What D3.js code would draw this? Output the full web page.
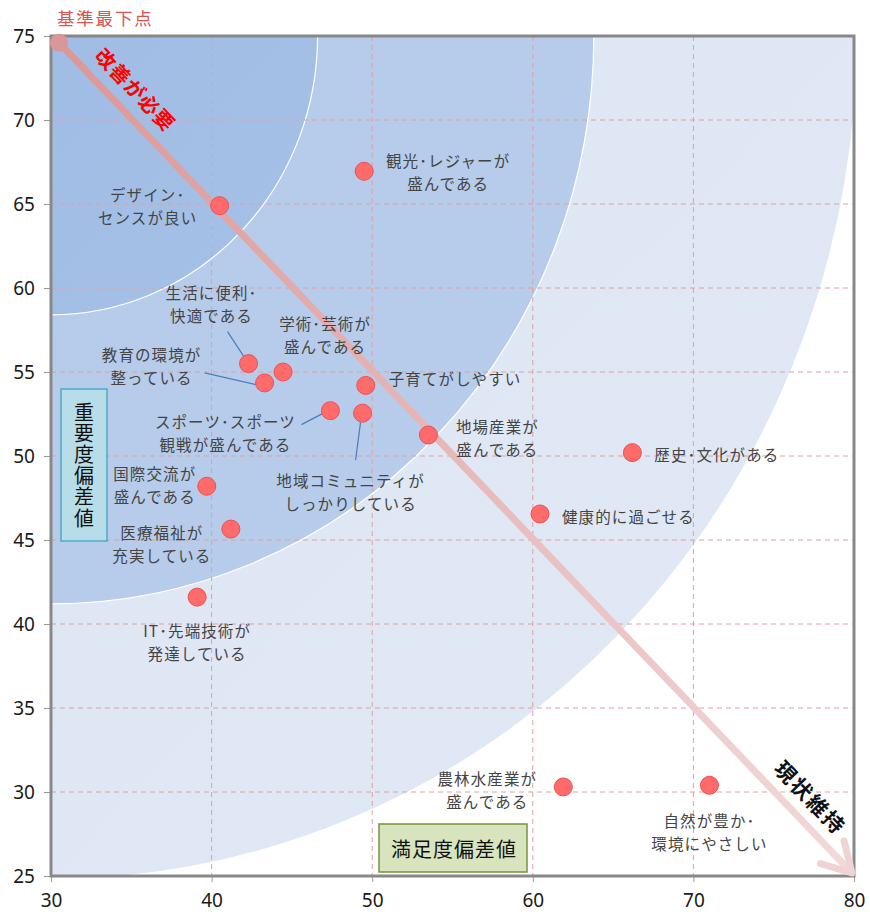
<!DOCTYPE html>
<html><head><meta charset="utf-8">
<script src="https://cdn.jsdelivr.net/npm/d3@7"></script>
<style>body{margin:0;background:#fff}svg{display:block}text{font-family:"Noto Sans CJK JP","Noto Sans",sans-serif}</style>
</head><body><svg id="c" width="870" height="912"></svg>
<script>
// ---- data ----
const items = ["観光･レジャーが\n盛んである","デザイン･\nセンスが良い","生活に便利･\n快適である","学術･芸術が\n盛んである","教育の環境が\n整っている","子育てがしやすい","スポーツ･スポーツ\n観戦が盛んである","地域コミュニティが\nしっかりしている","地場産業が\n盛んである","歴史･文化がある","国際交流が\n盛んである","健康的に過ごせる","医療福祉が\n充実している","IT･先端技術が\n発達している","農林水産業が\n盛んである","自然が豊か･\n環境にやさしい"];
const satisfaction = [49.5,40.5,42.3,44.45,43.3,49.6,47.4,49.4,53.5,66.2,39.7,60.45,41.2,39.1,61.9,71.0];
const importance   = [66.95,64.9,55.5,55.0,54.35,54.2,52.7,52.55,51.25,50.2,48.2,46.55,45.65,41.6,30.3,30.4];
const basePoint = {x:30.5, y:74.6, label:"基準最下点"};
const xTicks = [30,40,50,60,70,80];
const yTicks = [25,30,35,40,45,50,55,60,65,70,75];
const bandRadii = [50.2,33.8,16.6];
const xTitle = "満足度偏差値", yTitle = "重要度偏差値";
const arrowTop = "改善が必要", arrowBottom = "現状維持";

// ---- layout (label offsets in px relative to point) ----
const labelLayout = [
 {dx:84,dy:-11,a:"middle"},{dx:-72,dy:-12,a:"middle"},{dx:-37,dy:-72,a:"middle",lead:[[-21,-32],[-4,-6]]},
 {dx:42,dy:-49,a:"middle"},{dx:-113,dy:-29,a:"middle",lead:[[-60,-10],[-7,2]]},{dx:23,dy:-7,a:"start"},
 {dx:-105,dy:10,a:"middle",lead:[[-29,14],[-8,3]]},{dx:-12,dy:67,a:"middle",lead:[[-7,47],[-2,9]]},
 {dx:69,dy:-9,a:"middle"},{dx:22,dy:1,a:"start"},{dx:-52,dy:-13,a:"middle"},{dx:22,dy:2,a:"start"},
 {dx:-69,dy:3,a:"middle"},{dx:0,dy:33,a:"middle"},{dx:-76,dy:-9,a:"middle"},{dx:0,dy:35,a:"middle"}
];

const L=51,T=36,W=803,H=840;
const svg=d3.select("#c");
const x=d3.scaleLinear().domain([30,80]).range([L,L+W]);
const y=d3.scaleLinear().domain([25,75]).range([T+H,T]);
const defs=svg.append("defs");
defs.append("clipPath").attr("id","clip").append("rect").attr("x",L).attr("y",T).attr("width",W).attr("height",H);
const grads=[["g0","#dbe3f3","#e1e8f5"],["g1","#b2c9ea","#b8cdea"],["g2","#9bb8e2","#a6c1e7"]];
grads.forEach(g=>{const lg=defs.append("linearGradient").attr("id",g[0]).attr("x1","0").attr("y1","0").attr("x2","1").attr("y2","1");
 lg.append("stop").attr("offset","0").attr("stop-color",g[1]);lg.append("stop").attr("offset","1").attr("stop-color",g[2]);});
const ag=defs.append("linearGradient").attr("id","arr").attr("gradientUnits","userSpaceOnUse")
 .attr("x1",x(basePoint.x)).attr("y1",y(basePoint.y)).attr("x2",x(80)).attr("y2",y(25));
ag.append("stop").attr("offset","0").attr("stop-color","#db9797");
ag.append("stop").attr("offset","1").attr("stop-color","#f3dada");

const pg=svg.append("g").attr("clip-path","url(#clip)");
bandRadii.forEach((r,i)=>{
 pg.append("ellipse").attr("cx",x(30)).attr("cy",y(75))
  .attr("rx",x(30+r)-x(30)).attr("ry",y(75-r)-y(75))
  .attr("fill",`url(#g${i})`).attr("stroke","#fff").attr("stroke-width",1.2);
});
// grid
const gg=svg.append("g").attr("stroke","#e0a0a0").attr("stroke-width",1).attr("stroke-dasharray","5,4");
xTicks.slice(1,-1).forEach(v=>gg.append("line").attr("x1",x(v)).attr("x2",x(v)).attr("y1",T).attr("y2",T+H));
yTicks.slice(1,-1).forEach(v=>gg.append("line").attr("y1",y(v)).attr("y2",y(v)).attr("x1",L).attr("x2",L+W));

// axes
const ya=svg.append("g").attr("transform",`translate(${L},0)`).call(d3.axisLeft(y).tickValues(yTicks).tickSize(7).tickPadding(9));
const xa=svg.append("g").attr("transform",`translate(0,${T+H})`).call(d3.axisBottom(x).tickValues(xTicks).tickSize(6).tickPadding(12));
[ya,xa].forEach(a=>{a.select(".domain").remove();a.selectAll("line").attr("stroke","#999");
 a.selectAll("text").attr("fill","#1a1a1a").style("font-size","19px").style("font-family","\"Noto Sans\",\"Open Sans\",sans-serif");});
// frame
svg.append("rect").attr("x",L).attr("y",T).attr("width",W).attr("height",H).attr("fill","none").attr("stroke","#888").attr("stroke-width",3);

// leader lines
labelLayout.forEach((o,i)=>{ if(!o.lead) return; const px=x(satisfaction[i]),py=y(importance[i]);
 svg.append("line").attr("x1",px+o.lead[0][0]).attr("y1",py+o.lead[0][1]).attr("x2",px+o.lead[1][0]).attr("y2",py+o.lead[1][1])
  .attr("stroke","#4a7ebb").attr("stroke-width",1.2);});

// arrow
const x0=x(basePoint.x),y0=y(basePoint.y),x1=x(80)-2,y1=y(25)-3;
svg.append("line").attr("x1",x0).attr("y1",y0).attr("x2",x1).attr("y2",y1).attr("stroke","url(#arr)").attr("stroke-width",7);
const ang=Math.atan2(y1-y0,x1-x0);
const head=[ang+Math.PI-0.52,ang+Math.PI+0.52].map(a=>[x1+33*Math.cos(a),y1+33*Math.sin(a)]);
svg.append("path").attr("d",`M${head[0][0]},${head[0][1]}L${x1},${y1}L${head[1][0]},${head[1][1]}`)
 .attr("fill","none").attr("stroke","#f0d3d3").attr("stroke-width",7).attr("stroke-linecap","round").attr("stroke-linejoin","round");
svg.append("circle").attr("cx",x0).attr("cy",y0).attr("r",9).attr("fill","#db9797");
svg.append("text").attr("x",57).attr("y",25).attr("font-size",17.5).attr("letter-spacing",1.8).attr("fill","#d9534f").text(basePoint.label);

const deg=ang*180/Math.PI;
svg.append("text").attr("transform",`translate(136,89) rotate(${deg})`).attr("text-anchor","middle").attr("dominant-baseline","central")
 .attr("font-size",20).attr("font-weight","bold").attr("fill","#ff0000").attr("letter-spacing",1).text(arrowTop);
svg.append("text").attr("transform",`translate(811,797) rotate(${deg})`).attr("text-anchor","middle").attr("dominant-baseline","central")
 .attr("font-size",21).attr("font-weight","bold").attr("fill","#111").attr("letter-spacing",2).text(arrowBottom);

// points
svg.append("g").selectAll("circle").data(items).join("circle")
 .attr("cx",(d,i)=>x(satisfaction[i])).attr("cy",(d,i)=>y(importance[i])).attr("r",9)
 .attr("fill","#ff6b6b").attr("stroke","#ec5050").attr("stroke-width",1);
// labels
items.forEach((t,i)=>{const o=labelLayout[i];const px=x(satisfaction[i])+o.dx,py=y(importance[i])+o.dy;
 const tx=svg.append("text").attr("font-size",15.5).attr("letter-spacing",1.1).attr("fill","#444").attr("text-anchor",o.a);
 t.split("\n").forEach((ln,k)=>tx.append("tspan").attr("x",px).attr("y",py+k*23).attr("dominant-baseline","central").text(ln));});

// axis title boxes
svg.append("rect").attr("x",61).attr("y",389).attr("width",46).attr("height",152).attr("fill","#b7dde8").attr("stroke","#4bacc6").attr("stroke-width",1.5);
svg.append("text").attr("x",84).attr("y",402).attr("writing-mode","vertical-rl").attr("font-size",20).attr("letter-spacing",1.2)
 .attr("fill","#111").text(yTitle);
svg.append("rect").attr("x",379).attr("y",824).attr("width",148).attr("height",48).attr("fill","#d7e4bd").attr("stroke","#77933c").attr("stroke-width",1.5);
svg.append("text").attr("x",454).attr("y",848).attr("text-anchor","middle").attr("dominant-baseline","central").attr("font-size",20).attr("letter-spacing",1).attr("fill","#111").text(xTitle);
</script></body></html>
